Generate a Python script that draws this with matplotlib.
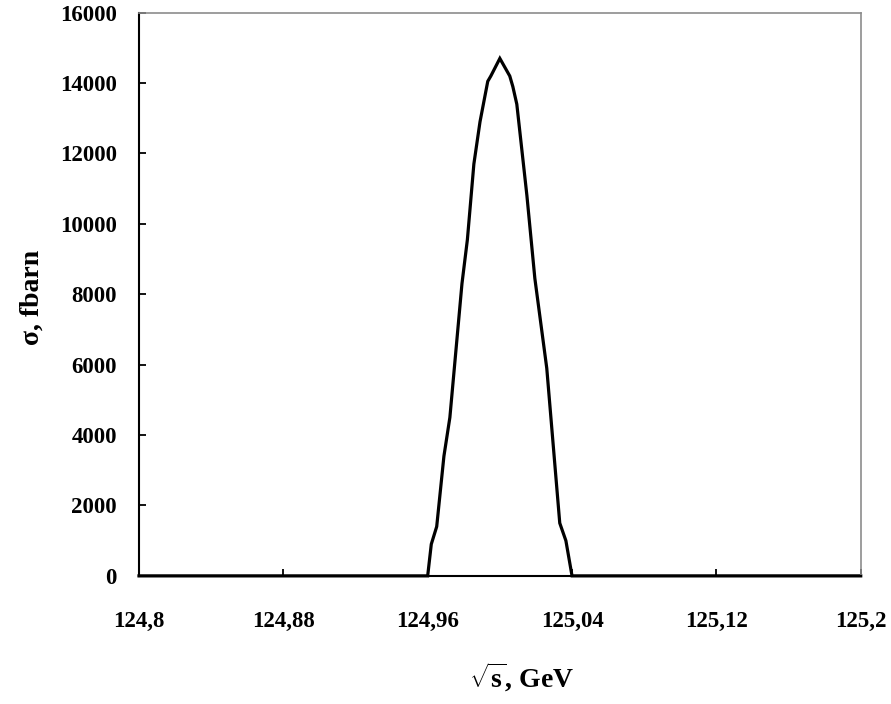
import matplotlib
matplotlib.use('Agg')
import matplotlib.pyplot as plt
from matplotlib.ticker import FixedLocator

plt.rcParams['font.family'] = ['Liberation Serif', 'DejaVu Serif']
plt.rcParams['font.weight'] = 'bold'
plt.rcParams['mathtext.fontset'] = 'custom'
plt.rcParams['mathtext.rm'] = 'Liberation Serif:bold'
plt.rcParams['mathtext.bf'] = 'Liberation Serif:bold'

# sqrt(s), GeV  vs  cross section, fbarn
energy = [124.80, 124.84, 124.88, 124.92, 124.960, 124.962, 124.965, 124.969,
          124.9723, 124.979, 124.982, 124.9856, 124.989, 124.9933, 124.995,
          125.000, 125.0055, 125.0072, 125.0094, 125.015, 125.0194, 125.026,
          125.0332, 125.0366, 125.040, 125.08, 125.12, 125.16, 125.20]
sigma = [0, 0, 0, 0, 0, 900, 1400, 3400,
         4500, 8300, 9550, 11700, 12900, 14050, 14200,
         14700, 14200, 13900, 13400, 10800, 8450, 5900,
         1500, 1000, 0, 0, 0, 0, 0]

x_ticks = [124.8, 124.88, 124.96, 125.04, 125.12, 125.2]
x_labels = ['124,8', '124,88', '124,96', '125,04', '125,12', '125,2']
y_ticks = [0, 2000, 4000, 6000, 8000, 10000, 12000, 14000, 16000]

fig = plt.figure(figsize=(8.91, 7.04), dpi=100)
ax = fig.add_axes([0.156, 0.182, 0.810, 0.800])

ax.plot(energy, sigma, color='black', lw=2.3, solid_joinstyle='miter', clip_on=False)

ax.set_xlim(124.8, 125.2)
ax.set_ylim(0, 16000)
ax.xaxis.set_major_locator(FixedLocator(x_ticks))
ax.set_xticklabels(x_labels)
ax.set_yticks(y_ticks)

ax.tick_params(direction='in', length=5, width=1.3, labelsize=16.5, colors='black')
ax.tick_params(axis='x', pad=25)
ax.tick_params(axis='y', pad=16)

for side in ['left', 'bottom']:
    ax.spines[side].set_color('black')
    ax.spines[side].set_linewidth(1.5)
for side in ['top', 'right']:
    ax.spines[side].set_color('#8c8c8c')
    ax.spines[side].set_linewidth(1.2)

ax.set_ylabel('σ, fbarn', fontsize=20, fontweight='bold')
ax.set_xlabel(r'$\sqrt{\mathbf{s}}$, GeV', fontsize=20, fontweight='bold')
ax.yaxis.set_label_coords(-0.131, 0.495)
ax.xaxis.set_label_coords(0.53, -0.150)

fig.savefig('out.png', dpi=100)
